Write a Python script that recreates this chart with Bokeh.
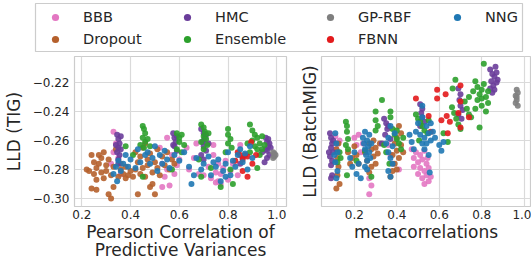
from bokeh.plotting import figure
from bokeh.models import Range1d, Legend, LegendItem, CustomJSTickFormatter, FixedTicker
from bokeh.layouts import column, row
from bokeh.embed import file_html
from bokeh.resources import INLINE

# ---------------- data ----------------
methods = ["BBB", "Dropout", "HMC", "Ensemble", "GP-RBF", "FBNN", "NNG"]
colors = ["#e377c2", "#b5602c", "#6a3d9a", "#2ca02c", "#7f7f7f", "#e31a1c", "#1f78b4"]
legend_columns = [["BBB", "Dropout"], ["HMC", "Ensemble"], ["GP-RBF", "FBNN"], ["NNG"]]

x_ticks = [0.2, 0.4, 0.6, 0.8, 1.0]
y_ticks = [-0.30, -0.28, -0.26, -0.24, -0.22]

# Left panel: Pearson correlation of predictive variances vs LLD (TIG)
bbb_tig = [(0.33,-0.254),(0.34,-0.262),(0.33,-0.268),(0.35,-0.272),(0.32,-0.276),(0.36,-0.283),
           (0.52,-0.265),(0.53,-0.276),(0.54,-0.285),(0.55,-0.258),(0.55,-0.280),(0.56,-0.291),(0.57,-0.270),
           (0.58,-0.283),(0.59,-0.277),(0.60,-0.273),(0.53,-0.292),(0.63,-0.265),(0.64,-0.280),(0.66,-0.272),
           (0.67,-0.262),(0.68,-0.283),(0.72,-0.278),(0.73,-0.286),(0.74,-0.270),(0.75,-0.282),(0.75,-0.289),
           (0.76,-0.276),(0.77,-0.283),(0.78,-0.279),(0.79,-0.274),(0.80,-0.287),(0.81,-0.281),(0.82,-0.276),
           (0.84,-0.284),(0.85,-0.263),(0.74,-0.263),(0.77,-0.290),(0.70,-0.284),(0.76,-0.288)]
dropout_tig = [(0.22,-0.280),(0.23,-0.281),(0.24,-0.293),(0.25,-0.275),(0.25,-0.283),(0.26,-0.279),(0.26,-0.287),
               (0.27,-0.270),(0.27,-0.276),(0.28,-0.282),(0.28,-0.272),(0.29,-0.268),(0.29,-0.286),(0.30,-0.277),
               (0.30,-0.281),(0.31,-0.273),(0.31,-0.297),(0.32,-0.300),(0.32,-0.284),(0.33,-0.278),(0.33,-0.292),
               (0.34,-0.266),(0.35,-0.285),(0.36,-0.280),(0.37,-0.283),(0.38,-0.278),(0.38,-0.286),(0.39,-0.284),
               (0.40,-0.281),(0.41,-0.285),(0.42,-0.268),(0.43,-0.297),(0.43,-0.275),(0.44,-0.271),(0.44,-0.283),
               (0.45,-0.265),(0.45,-0.279),(0.46,-0.262),(0.46,-0.285),(0.47,-0.273),(0.47,-0.277),(0.48,-0.292),
               (0.48,-0.269),(0.49,-0.282),(0.49,-0.290),(0.50,-0.275),(0.50,-0.297),(0.51,-0.266),(0.51,-0.279),
               (0.52,-0.284),(0.53,-0.271),(0.54,-0.277),(0.55,-0.268),(0.56,-0.280),(0.57,-0.273),(0.58,-0.276),
               (0.26,-0.294),(0.24,-0.270),(0.36,-0.276),(0.42,-0.280)]
hmc_tig = [(0.345,-0.256),(0.35,-0.259),(0.355,-0.262),(0.35,-0.265),(0.345,-0.268),(0.355,-0.270),(0.35,-0.273),
           (0.36,-0.257),(0.34,-0.263),(0.35,-0.276),(0.36,-0.266),(0.575,-0.255),(0.58,-0.258),(0.585,-0.261),
           (0.58,-0.264),(0.59,-0.267),(0.575,-0.263),(0.59,-0.257),(0.69,-0.252),(0.70,-0.255),(0.705,-0.258),
           (0.695,-0.261),(0.70,-0.264),(0.71,-0.267),(0.69,-0.270),(0.70,-0.260),(0.71,-0.256),(0.72,-0.262),
           (0.70,-0.273),(0.955,-0.258),(0.96,-0.261),(0.965,-0.264),(0.96,-0.267),(0.97,-0.270),(0.955,-0.266),
           (0.965,-0.259),(0.97,-0.262),(0.96,-0.272),(0.94,-0.268),(0.95,-0.275),(0.975,-0.265),(0.85,-0.276),
           (0.86,-0.272)]
ensemble_tig = [(0.45,-0.250),(0.455,-0.252),(0.46,-0.255),(0.45,-0.258),(0.46,-0.261),(0.44,-0.263),(0.455,-0.265),
                (0.47,-0.259),(0.41,-0.270),(0.48,-0.264),(0.45,-0.285),(0.38,-0.264),(0.59,-0.255),(0.60,-0.258),
                (0.61,-0.256),(0.60,-0.261),(0.62,-0.263),(0.59,-0.266),(0.61,-0.268),(0.57,-0.280),(0.69,-0.249),
                (0.70,-0.251),(0.705,-0.254),(0.70,-0.257),(0.71,-0.259),(0.69,-0.261),(0.715,-0.263),(0.70,-0.266),
                (0.72,-0.255),(0.68,-0.273),(0.69,-0.285),(0.73,-0.279),(0.80,-0.252),(0.80,-0.256),(0.81,-0.259),
                (0.80,-0.262),(0.815,-0.265),(0.79,-0.268),(0.82,-0.290),(0.77,-0.292),(0.81,-0.280),(0.89,-0.249),
                (0.90,-0.253),(0.91,-0.256),(0.92,-0.258),(0.90,-0.260),(0.93,-0.262),(0.91,-0.264),(0.94,-0.257),
                (0.92,-0.266),(0.89,-0.268),(0.93,-0.270),(0.95,-0.263),(0.92,-0.279),(0.88,-0.262),(0.94,-0.266)]
gp_tig = [(0.985,-0.268),(0.99,-0.269),(0.99,-0.271),(0.995,-0.270),(0.985,-0.272)]
fbnn_tig = [(0.84,-0.268),(0.85,-0.270),(0.86,-0.273),(0.87,-0.270),(0.88,-0.271),(0.88,-0.285),(0.895,-0.261),
            (0.915,-0.270),(0.86,-0.281),(0.83,-0.274),(0.90,-0.276)]
nng_tig = [(0.33,-0.283),(0.34,-0.278),(0.345,-0.288),(0.35,-0.274),(0.36,-0.281),(0.37,-0.276),(0.38,-0.270),
           (0.39,-0.278),(0.40,-0.273),(0.42,-0.279),(0.43,-0.266),(0.44,-0.275),(0.46,-0.270),(0.47,-0.268),
           (0.48,-0.276),(0.49,-0.272),(0.50,-0.264),(0.51,-0.281),(0.52,-0.270),(0.53,-0.276),(0.54,-0.267),
           (0.55,-0.273),(0.56,-0.279),(0.58,-0.270),(0.60,-0.274),(0.62,-0.268),(0.64,-0.278),(0.65,-0.290),
           (0.66,-0.284),(0.67,-0.272),(0.69,-0.280),(0.70,-0.276),(0.72,-0.271),(0.73,-0.284),(0.75,-0.278),
           (0.76,-0.273),(0.77,-0.288),(0.78,-0.281),(0.79,-0.276),(0.80,-0.268),(0.81,-0.284),(0.82,-0.274),
           (0.83,-0.278),(0.84,-0.270),(0.85,-0.266),(0.86,-0.275),(0.87,-0.269),(0.88,-0.280),(0.90,-0.272),
           (0.89,-0.264),(0.79,-0.285),(0.74,-0.275)]

# Right panel: metacorrelations vs LLD (BatchMIG)
bbb_mig = [(0.11,-0.257),(0.12,-0.262),(0.115,-0.266),(0.13,-0.260),(0.20,-0.258),(0.21,-0.263),(0.22,-0.256),
           (0.23,-0.268),(0.24,-0.262),(0.27,-0.286),(0.27,-0.297),(0.28,-0.291),(0.36,-0.263),(0.37,-0.270),
           (0.38,-0.276),(0.41,-0.280),(0.47,-0.266),(0.48,-0.272),(0.48,-0.278),(0.49,-0.268),(0.50,-0.275),
           (0.50,-0.283),(0.51,-0.270),(0.51,-0.279),(0.52,-0.286),(0.52,-0.273),(0.53,-0.281),(0.53,-0.290),
           (0.54,-0.276),(0.54,-0.284),(0.55,-0.279),(0.55,-0.288),(0.56,-0.285),(0.53,-0.267),(0.545,-0.272)]
dropout_mig = [(0.115,-0.266),(0.12,-0.272),(0.125,-0.278),(0.12,-0.284),(0.13,-0.290),(0.115,-0.293),(0.125,-0.262),
               (0.17,-0.268),(0.19,-0.272),(0.20,-0.264),(0.21,-0.270),(0.22,-0.276),(0.18,-0.276),(0.25,-0.268),
               (0.26,-0.274),(0.27,-0.262),(0.28,-0.266),(0.28,-0.278),(0.29,-0.260),(0.29,-0.271),(0.30,-0.265),
               (0.30,-0.276),(0.31,-0.269),(0.27,-0.282),(0.32,-0.262),(0.38,-0.270),(0.39,-0.262),(0.39,-0.276),
               (0.40,-0.258),(0.40,-0.267),(0.41,-0.272),(0.41,-0.250),(0.42,-0.263),(0.42,-0.255),(0.43,-0.268),
               (0.40,-0.280),(0.37,-0.285),(0.38,-0.281)]
hmc_mig = [(0.085,-0.255),(0.09,-0.258),(0.095,-0.262),(0.09,-0.265),(0.10,-0.268),(0.085,-0.271),(0.095,-0.274),
           (0.09,-0.277),(0.10,-0.260),(0.095,-0.284),(0.09,-0.286),(0.08,-0.268),(0.34,-0.245),(0.35,-0.248),
           (0.355,-0.252),(0.345,-0.256),(0.36,-0.250),(0.33,-0.262),(0.37,-0.259),(0.51,-0.235),(0.52,-0.238),
           (0.515,-0.241),(0.52,-0.244),(0.53,-0.247),(0.51,-0.250),(0.69,-0.224),(0.70,-0.228),(0.695,-0.232),
           (0.70,-0.236),(0.71,-0.239),(0.69,-0.242),(0.705,-0.245),(0.84,-0.211),(0.85,-0.214),(0.86,-0.216),
           (0.845,-0.219),(0.855,-0.222),(0.87,-0.213),(0.86,-0.225),(0.85,-0.227),(0.87,-0.220),(0.84,-0.224),
           (0.865,-0.209),(0.875,-0.218)]
ensemble_mig = [(0.13,-0.268),(0.135,-0.272),(0.12,-0.275),(0.16,-0.247),(0.165,-0.250),(0.165,-0.254),(0.17,-0.259),
                (0.16,-0.263),(0.17,-0.266),(0.165,-0.284),(0.21,-0.274),(0.25,-0.267),(0.28,-0.285),(0.30,-0.240),
                (0.30,-0.246),(0.31,-0.250),(0.30,-0.253),(0.33,-0.232),(0.34,-0.263),(0.35,-0.268),(0.365,-0.276),
                (0.37,-0.240),(0.37,-0.244),(0.38,-0.252),(0.39,-0.256),(0.40,-0.259),(0.41,-0.262),(0.42,-0.266),
                (0.40,-0.253),(0.43,-0.258),(0.49,-0.242),(0.50,-0.245),(0.51,-0.247),(0.52,-0.250),(0.53,-0.253),
                (0.545,-0.255),(0.505,-0.260),(0.55,-0.246),(0.62,-0.255),(0.64,-0.261),(0.66,-0.237),(0.67,-0.241),
                (0.68,-0.245),(0.69,-0.249),(0.70,-0.252),(0.663,-0.224),(0.676,-0.218),(0.72,-0.233),(0.73,-0.238),
                (0.74,-0.242),(0.75,-0.244),(0.74,-0.230),(0.76,-0.226),(0.77,-0.219),(0.78,-0.223),(0.78,-0.232),
                (0.79,-0.228),(0.79,-0.251),(0.80,-0.225),(0.80,-0.236),(0.81,-0.221),(0.81,-0.207),(0.82,-0.230),
                (0.82,-0.240),(0.83,-0.234),(0.83,-0.226),(0.77,-0.238),(0.80,-0.231)]
gp_mig = [(0.965,-0.225),(0.97,-0.227),(0.96,-0.229),(0.965,-0.232),(0.96,-0.234),(0.97,-0.236),(0.965,-0.230)]
fbnn_mig = [(0.49,-0.231),(0.55,-0.243),(0.59,-0.225),(0.59,-0.231),(0.61,-0.246),(0.63,-0.228),(0.635,-0.243),
            (0.64,-0.255),(0.65,-0.247),(0.69,-0.241),(0.70,-0.222),(0.70,-0.233),(0.70,-0.251),(0.74,-0.244),
            (0.56,-0.254)]
nng_mig = [(0.11,-0.255),(0.115,-0.262),(0.12,-0.268),(0.11,-0.275),(0.12,-0.281),(0.115,-0.286),(0.105,-0.270),
           (0.18,-0.272),(0.19,-0.278),(0.20,-0.268),(0.21,-0.283),(0.22,-0.276),(0.23,-0.286),(0.24,-0.258),
           (0.245,-0.262),(0.25,-0.266),(0.25,-0.254),(0.255,-0.270),(0.26,-0.260),(0.26,-0.274),(0.265,-0.264),
           (0.27,-0.268),(0.27,-0.256),(0.275,-0.272),(0.28,-0.262),(0.25,-0.278),(0.26,-0.280),(0.35,-0.262),
           (0.36,-0.258),(0.36,-0.268),(0.37,-0.272),(0.37,-0.250),(0.38,-0.264),(0.38,-0.276),(0.39,-0.255),
           (0.36,-0.281),(0.37,-0.285),(0.46,-0.256),(0.47,-0.261),(0.48,-0.266),(0.49,-0.254),(0.50,-0.248),
           (0.51,-0.256),(0.52,-0.262),(0.52,-0.244),(0.53,-0.258),(0.53,-0.266),(0.54,-0.250),(0.54,-0.262),
           (0.55,-0.255),(0.55,-0.270),(0.56,-0.248),(0.56,-0.260),(0.57,-0.254),(0.58,-0.258),(0.52,-0.236),
           (0.555,-0.282),(0.60,-0.263),(0.61,-0.267),(0.62,-0.261)]

tig_data = [bbb_tig, dropout_tig, hmc_tig, ensemble_tig, gp_tig, fbnn_tig, nng_tig]
mig_data = [bbb_mig, dropout_mig, hmc_mig, ensemble_mig, gp_mig, fbnn_mig, nng_mig]

# ---------------- styling ----------------
FONT = "DejaVu Sans"
TEXT = "#262626"
GRID = "#dadada"
EDGE = "#cccccc"

y_range = Range1d(-0.3055, -0.202)


def style(p, show_y_ticks):
    p.outline_line_color = EDGE
    p.outline_line_width = 1.2
    p.grid.grid_line_color = GRID
    p.grid.grid_line_width = 1.2
    p.xaxis.ticker = FixedTicker(ticks=x_ticks)
    p.xgrid.ticker = FixedTicker(ticks=x_ticks)
    p.ygrid.ticker = FixedTicker(ticks=y_ticks)
    p.xaxis.formatter = CustomJSTickFormatter(code="return tick.toFixed(1);")
    if show_y_ticks:
        p.yaxis.ticker = FixedTicker(ticks=y_ticks)
        p.yaxis.formatter = CustomJSTickFormatter(code="return tick.toFixed(2).replace('-', '\\u2212');")
    else:
        p.yaxis.ticker = FixedTicker(ticks=[])
    for ax in (p.xaxis[0], p.yaxis[0]):
        ax.axis_line_color = None
        ax.major_tick_line_color = None
        ax.minor_tick_line_color = None
        ax.major_tick_out = 0
        ax.major_tick_in = 0
        ax.minor_tick_out = 0
        ax.minor_tick_in = 0
        ax.major_label_text_font = FONT
        ax.major_label_text_font_size = "12px"
        ax.major_label_text_color = TEXT
        ax.axis_label_text_font = FONT
        ax.axis_label_text_font_size = "17px"
        ax.axis_label_text_font_style = "normal"
        ax.axis_label_text_color = TEXT
        ax.axis_label_text_line_height = 0.9
    p.xaxis.major_label_standoff = 3
    p.xaxis.axis_label_standoff = 0
    if show_y_ticks:
        p.yaxis.major_label_standoff = 5
        p.yaxis.axis_label_standoff = 6
    else:
        p.yaxis.major_label_standoff = 0
        p.yaxis.axis_label_standoff = 2


p1 = figure(width=296, height=210, x_range=Range1d(0.17, 1.04), y_range=y_range,
            min_border_left=73, min_border_right=10, min_border_top=4, min_border_bottom=54,
            output_backend="svg", toolbar_location=None,
            x_axis_label="Pearson Correlation of\nPredictive Variances", y_axis_label="LLD (TIG)")
p2 = figure(width=235, height=210, x_range=Range1d(0.045, 1.03), y_range=y_range,
            min_border_left=23, min_border_right=1, min_border_top=4, min_border_bottom=54,
            output_backend="svg", toolbar_location=None,
            x_axis_label="metacorrelations", y_axis_label="LLD (BatchMIG)")
style(p1, True)
style(p2, False)

for p, data in ((p1, tig_data), (p2, mig_data)):
    for m, c, pts in zip(methods, colors, data):
        xs = [a for a, b in pts]
        ys = [b for a, b in pts]
        p.scatter(xs, ys, size=6, fill_color=c, fill_alpha=0.9, line_color=None)

# ---------------- legend ----------------
lf = figure(width=531, height=52, x_range=Range1d(0, 1), y_range=Range1d(0, 1),
            x_axis_type=None, y_axis_type=None,
            min_border_left=35, min_border_right=9, min_border_top=3, min_border_bottom=0,
            output_backend="svg", toolbar_location=None)
lf.grid.visible = False
lf.outline_line_color = EDGE
lf.outline_line_width = 1.2

nan = float("nan")
dummy = {}
for m, c in zip(methods, colors):
    dummy[m] = lf.scatter(x=[nan], y=[nan], size=8, fill_color=c, line_color=None)

col_x = [11, 143, 286, 413]
frame_h = 49
top_gap = 5
for cx, names in zip(col_x, legend_columns):
    n = len(names)
    h = n * 18 + (n - 1) * 4
    leg = Legend(items=[LegendItem(label=nm, renderers=[dummy[nm]]) for nm in names],
                 location=(cx, frame_h - top_gap - h), orientation="vertical",
                 glyph_width=18, glyph_height=18, label_height=18, label_standoff=19,
                 spacing=4, padding=0, margin=0,
                 border_line_color=None, background_fill_alpha=0,
                 label_text_font=FONT, label_text_font_size="14.5px", label_text_color=TEXT)
    lf.add_layout(leg, "center")

layout = column(lf, row(p1, p2))
open("out.html", "w").write(file_html(layout, INLINE))
